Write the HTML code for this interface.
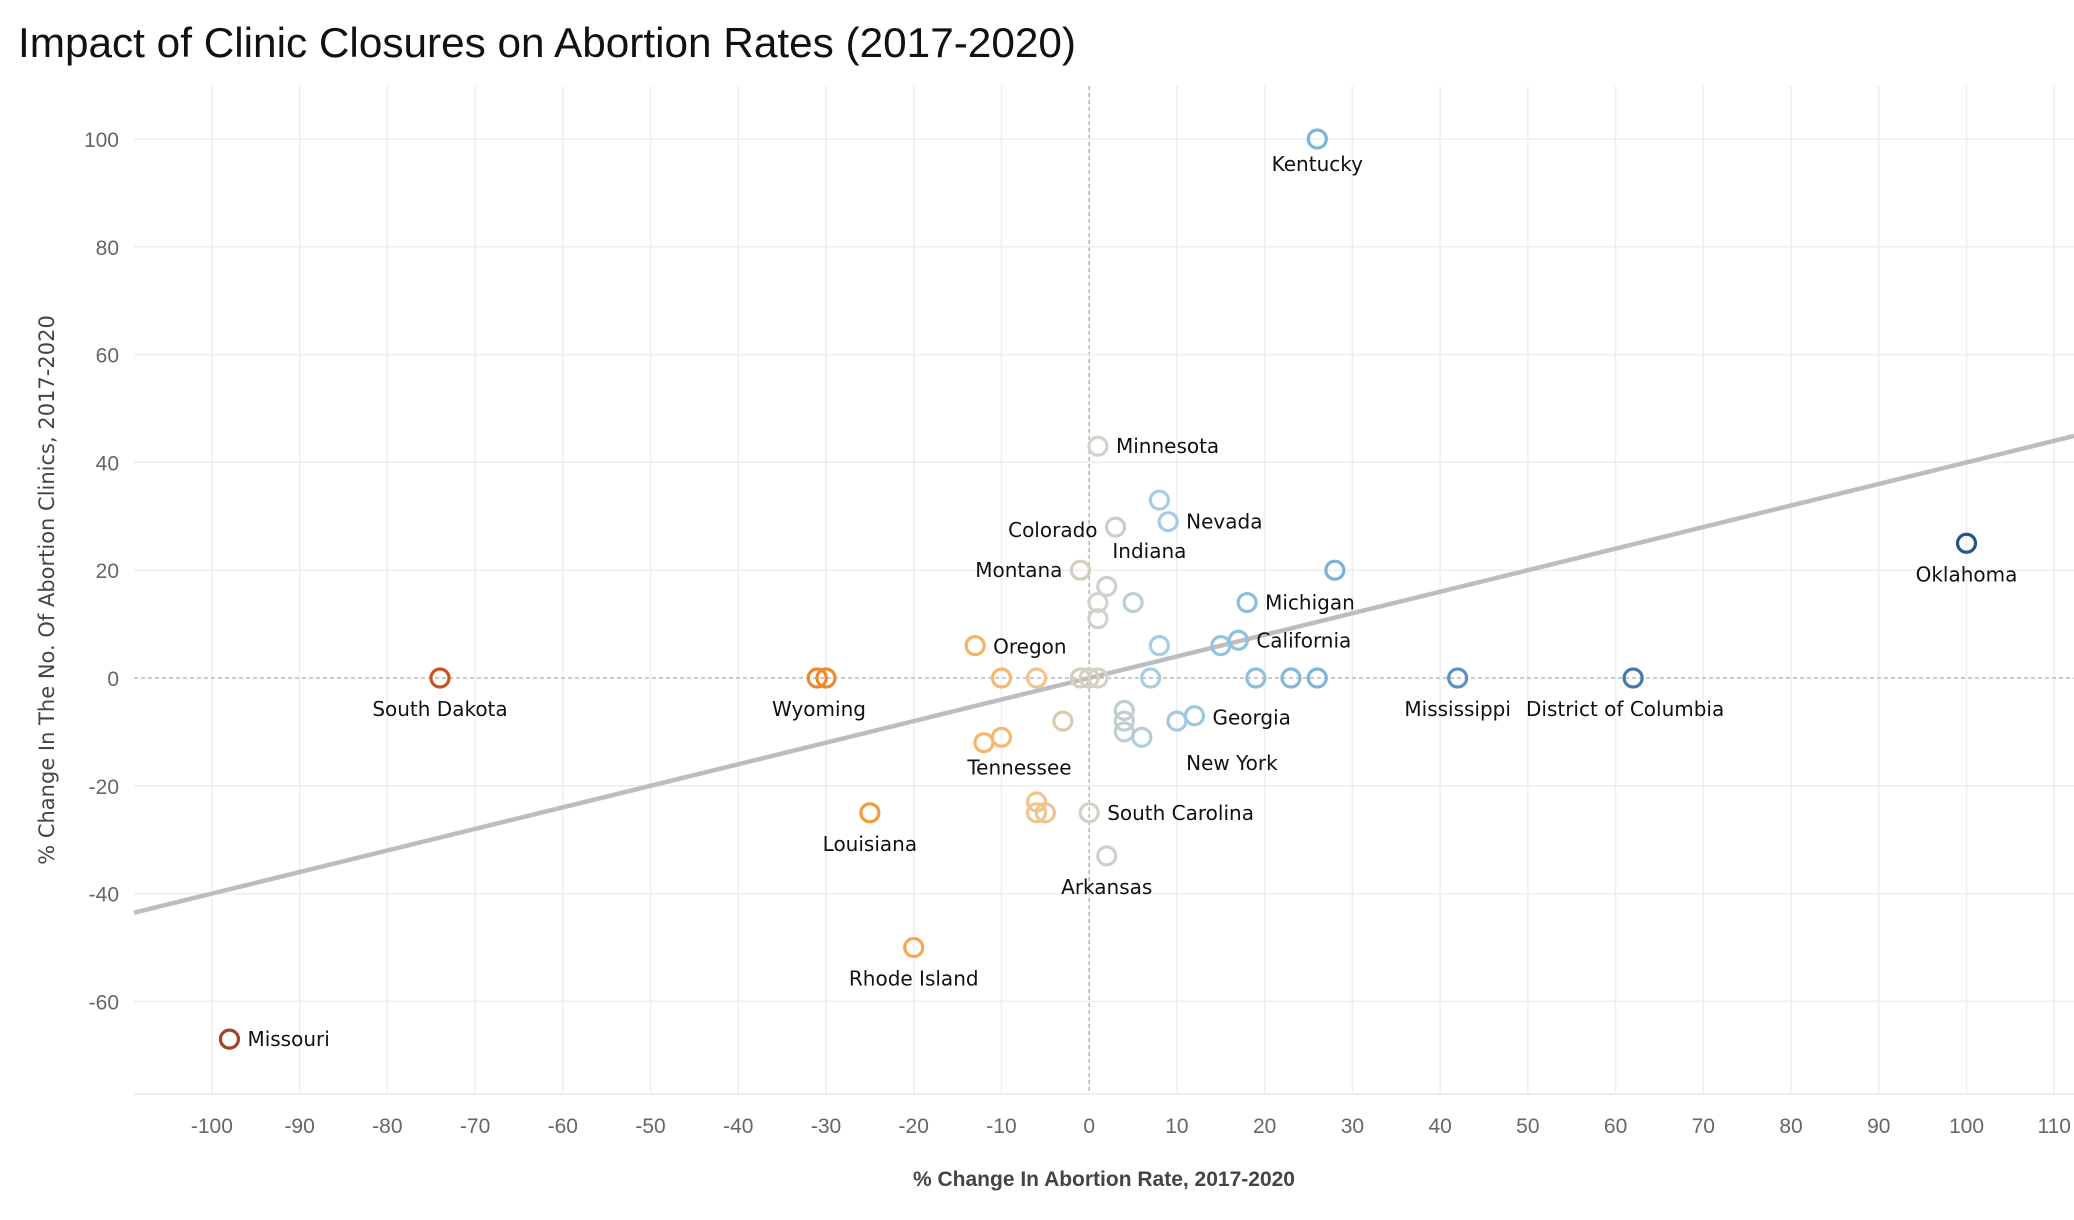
<!DOCTYPE html>
<html><head><meta charset="utf-8">
<style>
html,body{margin:0;padding:0;background:#fff;}
svg{display:block;}
.tick{font-family:"Liberation Sans Narrow","Liberation Sans",sans-serif;font-size:21px;fill:#666;}
.lbl{font-family:"DejaVu Sans","Liberation Sans",sans-serif;font-size:20px;fill:#111;}
</style></head>
<body>
<svg id="chart" width="2074" height="1220" viewBox="0 0 2074 1220">
<text x="18" y="57" font-family="Liberation Sans Narrow, Liberation Sans, sans-serif" font-size="42" fill="#111" textLength="1058" lengthAdjust="spacingAndGlyphs">Impact of Clinic Closures on Abortion Rates (2017-2020)</text>
<g id="grid"></g>
<g id="axes"></g>
<g id="trend"></g>
<g id="pts"></g>
<g id="lbls"></g>
<text x="1104" y="1186" text-anchor="middle" font-family="Liberation Sans Narrow, Liberation Sans, sans-serif" font-size="21" font-weight="bold" fill="#444">% Change In Abortion Rate, 2017-2020</text>
<text transform="translate(54,590) rotate(-90)" text-anchor="middle" font-family="DejaVu Sans, Liberation Sans, sans-serif" font-size="21" fill="#444">% Change In The No. Of Abortion Clinics, 2017-2020</text>
</svg>
<script>
const xTicks=[-100,-90,-80,-70,-60,-50,-40,-30,-20,-10,0,10,20,30,40,50,60,70,80,90,100,110];
const yTicks=[-60,-40,-20,0,20,40,60,80,100];
const xVals=[26,1,8,9,3,-1,1,1,2,5,28,18,17,15,8,-13,-74,-31,-30,-10,-6,-1,0,1,7,19,23,26,42,62,100,-3,4,4,4,6,12,10,-12,-10,-25,-6,-6,-5,0,2,-20,-98];
const yVals=[100,43,33,29,28,20,14,11,17,14,20,14,7,6,6,6,0,0,0,0,0,0,0,0,0,0,0,0,0,0,25,-8,-6,-8,-10,-11,-7,-8,-12,-11,-25,-23,-25,-25,-25,-33,-50,-67];
const names=["Kentucky","Minnesota","Indiana","Nevada","Colorado","Montana","","","","","","Michigan","California","","","Oregon","South Dakota","","Wyoming","","","","","","","","","","Mississippi","District of Columbia","Oklahoma","","","","","","Georgia","New York","","Tennessee","Louisiana","","","","South Carolina","Arkansas","Rhode Island","Missouri"];
const trendSlope=0.4, trendIntercept=0;
// label layout (pixel offsets relative to point): [dx, dy, anchor]
const labelLayout={"Kentucky":[0,32,"middle"],"Minnesota":[18,7,"start"],"Indiana":[-10,58,"middle"],"Nevada":[18,7,"start"],"Colorado":[-18,10,"end"],"Montana":[-18,7,"end"],"Michigan":[18,7,"start"],"California":[18,7,"start"],"Oregon":[18,8,"start"],"South Dakota":[0,38,"middle"],"Wyoming":[-7,38,"middle"],"Mississippi":[0,38,"middle"],"District of Columbia":[-8,38,"middle"],"Oklahoma":[0,38,"middle"],"Georgia":[18,9,"start"],"New York":[55,49,"middle"],"Tennessee":[18,37,"middle"],"Louisiana":[0,38,"middle"],"South Carolina":[18,7,"start"],"Arkansas":[0,38,"middle"],"Rhode Island":[0,38,"middle"],"Missouri":[18,7,"start"]};
const NS="http://www.w3.org/2000/svg";
const X=v=>1089.2+v*8.773, Y=v=>678-v*5.39;
const L=134,R=2074,T=86,B=1094;
function mk(tag,attrs,parent){const e=document.createElementNS(NS,tag);for(const k in attrs)e.setAttribute(k,attrs[k]);parent.appendChild(e);return e;}
const grid=document.getElementById('grid'),axes=document.getElementById('axes');
xTicks.forEach(t=>{
  const l=mk('line',{x1:X(t),x2:X(t),y1:T,y2:B,stroke:t===0?'#aaa':'#eeeeee','stroke-width':t===0?1.3:1.5,'stroke-dasharray':t===0?'4 3':'none'},grid);
  
  
  const tx=mk('text',{x:X(t),y:1133,'text-anchor':'middle',class:'tick'},axes);tx.textContent=t;
  
  
});
yTicks.forEach(t=>{
  const l=mk('line',{x1:L,x2:R,y1:Y(t),y2:Y(t),stroke:t===0?'#aaa':'#eeeeee','stroke-width':t===0?1.3:1.5,'stroke-dasharray':t===0?'4 3':'none'},grid);
  
  
  const tx=mk('text',{x:119,y:Y(t)+8,'text-anchor':'end',class:'tick'},axes);tx.textContent=t;
  
  
});
const bl=mk('line',{x1:L,x2:R,y1:B,y2:B,stroke:'#eee','stroke-width':2},grid);


const xa=(L-1089.2)/8.773,xb=(R-1089.2)/8.773;
const tl=mk('line',{x1:X(xa),y1:Y(trendIntercept+trendSlope*xa),x2:X(xb),y2:Y(trendIntercept+trendSlope*xb),stroke:'#bdbdbd','stroke-width':4.5},document.getElementById('trend'));


function col(v){
  const stops=[[-100,[160,65,42]],[-74,[200,83,31]],[-30,[240,137,44]],[-20,[246,168,80]],[-10,[247,184,110]],[-6,[240,196,140]],[-2,[216,204,182]],[1,[210,210,200]],[4,[192,206,208]],[8,[166,205,226]],[20,[135,187,222]],[30,[120,175,218]],[42,[92,145,198]],[62,[72,118,176]],[100,[40,84,140]]];
  if(v<=stops[0][0])return 'rgb('+stops[0][1]+')';
  for(let i=1;i<stops.length;i++){if(v<=stops[i][0]){const a=stops[i-1],b=stops[i],f=(v-a[0])/(b[0]-a[0]);return 'rgb('+a[1].map((c,j)=>Math.round(c+(b[1][j]-c)*f)).join(',')+')';}}
  return 'rgb('+stops[stops.length-1][1]+')';
}
const pts=document.getElementById('pts'),lbls=document.getElementById('lbls');
xVals.forEach((xv,i)=>{
  const cx=X(xv),cy=Y(yVals[i]);
  const c=mk('circle',{cx:cx,cy:cy,r:9,fill:'none',stroke:col(xv),'stroke-width':3.2},pts);
  
  
  const n=names[i];
  if(n){const lo=labelLayout[n]||[0,38,'middle'];
    const t=mk('text',{x:cx+lo[0],y:cy+lo[1],'text-anchor':lo[2],class:'lbl'},lbls);t.textContent=n;
    
    }
});
</script>
</body></html>
